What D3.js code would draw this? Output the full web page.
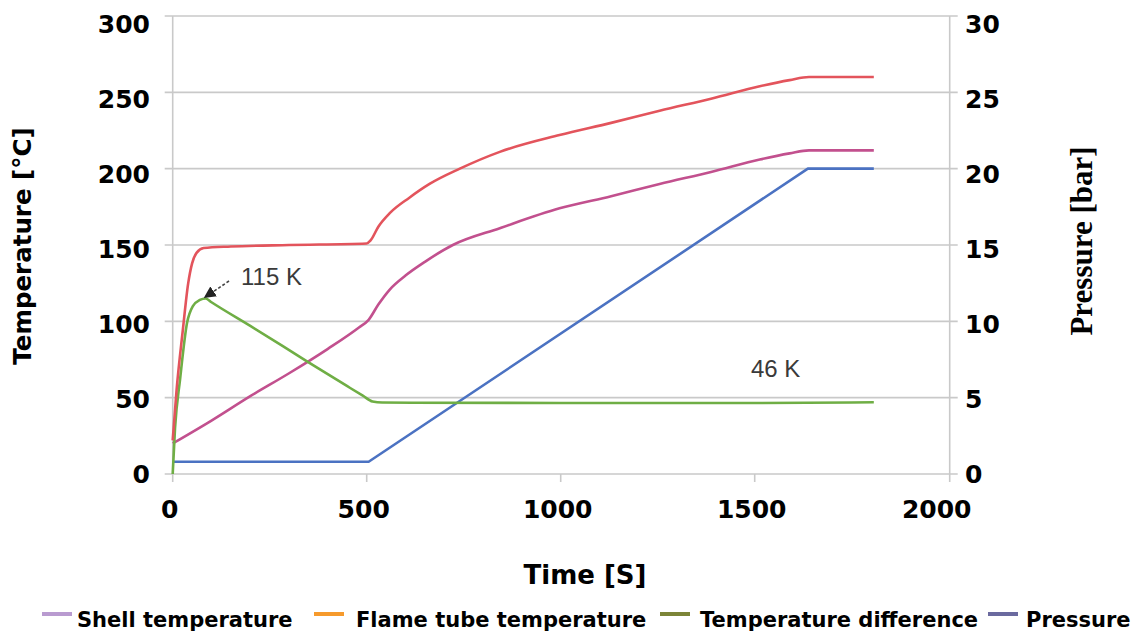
<!DOCTYPE html>
<html>
<head>
<meta charset="utf-8">
<script src="https://cdn.jsdelivr.net/npm/d3@7"></script>
<style>
  html, body { margin: 0; padding: 0; background: #fff; }
  svg { display: block; }
</style>
</head>
<body>
<svg id="chart" width="1139" height="632"></svg>
<script>
// --- data (time in s, temperature in °C, pressure in bar)
const flameTime = [0, 10, 26, 40, 50, 62, 80, 150, 300, 500, 510, 530, 560, 610, 662, 740, 843, 997, 1130, 1255, 1390, 1513, 1590, 1640, 1807]
const flameTemp = [22, 55, 94, 125, 138, 145, 148, 149, 150, 151, 153, 162, 171, 181, 190, 200, 211, 222, 230, 238, 246, 254, 258, 260, 260]

const shellTime = [0, 100, 200, 300, 400, 480, 505, 530, 560, 600, 650, 722, 843, 997, 1130, 1255, 1390, 1513, 1590, 1640, 1807]
const shellTemp = [20, 35, 51, 66, 82, 96, 101, 111, 121, 130, 139, 150, 161, 174, 182, 190, 198, 206, 210, 212, 212]

const diffTime = [0, 6, 19, 37, 52, 70, 85, 100, 200, 345, 450, 490, 515, 540, 1000, 1500, 1807]
const diffTemp = [0, 30, 62, 99, 110, 114, 115, 112.5, 97, 74, 57.5, 51.3, 47.5, 46.8, 46.5, 46.5, 47]

const pressTime = [0, 505, 1637, 1807]
const pressBar = [0.8, 0.8, 20, 20]

const timeTicks = [0, 500, 1000, 1500, 2000]
const tempTicks = [0, 50, 100, 150, 200, 250, 300]
const pressTicks = [0, 5, 10, 15, 20, 25, 30]

const legendNames = ["Shell temperature", "Flame tube temperature", "Temperature difference", "Pressure"]
const legendColors = ["#b99bd0", "#f69a2c", "#7c8538", "#6b6a9f"]

// --- layout
const svg = d3.select("#chart")
const plotLeft = 172.7, plotRight = 948.7, plotTop = 16, plotBottom = 474
const sans = "'DejaVu Sans', Verdana, sans-serif"

const x = d3.scaleLinear().domain([0, 2000]).range([plotLeft, plotRight])
const y = d3.scaleLinear().domain([0, 300]).range([plotBottom, plotTop])
const yP = d3.scaleLinear().domain([0, 30]).range([plotBottom, plotTop])
// labels in the original sit on a slightly tighter spacing than the grid
const yLab = d3.scaleLinear().domain([0, 300]).range([474, 24])
const yPLab = d3.scaleLinear().domain([0, 30]).range([474, 24])

const gridColor = "#c9c9c9"

// horizontal grid lines
svg.append("g")
  .selectAll("line")
  .data(tempTicks)
  .join("line")
  .attr("x1", plotLeft - 8)
  .attr("x2", plotRight + 9)
  .attr("y1", d => y(d))
  .attr("y2", d => y(d))
  .attr("stroke", gridColor)
  .attr("stroke-width", 1.6)

// left and right axis lines
svg.append("line")
  .attr("x1", plotLeft).attr("x2", plotLeft)
  .attr("y1", plotTop).attr("y2", plotBottom + 8)
  .attr("stroke", gridColor).attr("stroke-width", 1.6)
svg.append("line")
  .attr("x1", plotRight + 1).attr("x2", plotRight + 1)
  .attr("y1", plotTop).attr("y2", plotBottom + 8)
  .attr("stroke", gridColor).attr("stroke-width", 1.6)

// bottom tick marks
svg.append("g")
  .selectAll("line")
  .data(timeTicks.slice(1, -1))
  .join("line")
  .attr("x1", d => x(d)).attr("x2", d => x(d))
  .attr("y1", plotBottom).attr("y2", plotBottom + 8)
  .attr("stroke", gridColor).attr("stroke-width", 1.6)

// tick labels
svg.append("g")
  .selectAll("text")
  .data(tempTicks)
  .join("text")
  .attr("x", 150)
  .attr("y", d => yLab(d))
  .attr("dy", "0.36em")
  .attr("text-anchor", "end")
  .attr("font-family", sans)
  .attr("font-weight", "bold")
  .attr("font-size", 25)
  .text(d => d)

svg.append("g")
  .selectAll("text")
  .data(pressTicks)
  .join("text")
  .attr("x", 965)
  .attr("y", d => yPLab(d))
  .attr("dy", "0.36em")
  .attr("text-anchor", "start")
  .attr("font-family", sans)
  .attr("font-weight", "bold")
  .attr("font-size", 25)
  .text(d => d)

svg.append("g")
  .selectAll("text")
  .data(timeTicks)
  .join("text")
  .attr("x", d => x(d) - (d === 2000 ? 12 : 3))
  .attr("y", 518)
  .attr("text-anchor", "middle")
  .attr("font-family", sans)
  .attr("font-weight", "bold")
  .attr("font-size", 25)
  .text(d => d)

// axis titles
svg.append("text")
  .attr("transform", "translate(31,246) rotate(-90)")
  .attr("text-anchor", "middle")
  .attr("font-family", sans)
  .attr("font-weight", "bold")
  .attr("font-size", 24.5)
  .text("Temperature [°C]")

svg.append("text")
  .attr("transform", "translate(1092,241) rotate(-90)")
  .attr("text-anchor", "middle")
  .attr("font-family", "'Liberation Serif', 'Times New Roman', serif")
  .attr("font-weight", "bold")
  .attr("font-size", 31)
  .text("Pressure [bar]")

svg.append("text")
  .attr("x", 585)
  .attr("y", 584)
  .attr("text-anchor", "middle")
  .attr("font-family", sans)
  .attr("font-weight", "bold")
  .attr("font-size", 26)
  .text("Time [S]")

// series lines
const tempLine = d3.line().x(d => x(d[0])).y(d => y(d[1])).curve(d3.curveMonotoneX)
const pressLine = d3.line().x(d => x(d[0])).y(d => yP(d[1]))

const series = [
  { t: pressTime, v: pressBar, color: "#4b72c2", gen: pressLine },
  { t: shellTime, v: shellTemp, color: "#c2508e", gen: tempLine },
  { t: diffTime, v: diffTemp, color: "#6fae45", gen: tempLine },
  { t: flameTime, v: flameTemp, color: "#e3545c", gen: tempLine },
]

svg.append("g")
  .selectAll("path")
  .data(series)
  .join("path")
  .attr("d", s => s.gen(d3.zip(s.t, s.v)))
  .attr("fill", "none")
  .attr("stroke", s => s.color)
  .attr("stroke-width", 2.6)
  .attr("stroke-linejoin", "round")

// annotations
const defs = svg.append("defs")
defs.append("marker")
  .attr("id", "arrowHead")
  .attr("viewBox", "0 0 10 10")
  .attr("refX", 9).attr("refY", 5)
  .attr("markerWidth", 12).attr("markerHeight", 12)
  .attr("markerUnits", "userSpaceOnUse")
  .attr("orient", "auto")
  .append("path")
  .attr("d", "M0,0 L10,5 L0,10 Z")
  .attr("fill", "#222")

svg.append("line")
  .attr("x1", 229).attr("y1", 281)
  .attr("x2", x(80) + 1).attr("y2", y(115) - 1)
  .attr("stroke", "#444")
  .attr("stroke-width", 1.6)
  .attr("stroke-dasharray", "3,2")
  .attr("marker-end", "url(#arrowHead)")

svg.append("text")
  .attr("x", 241).attr("y", 285)
  .attr("font-family", "'Liberation Sans', Arial, sans-serif")
  .attr("font-size", 24)
  .attr("fill", "#3a3a3a")
  .text("115 K")

svg.append("text")
  .attr("x", 751).attr("y", 377)
  .attr("font-family", "'Liberation Sans', Arial, sans-serif")
  .attr("font-size", 24)
  .attr("fill", "#3a3a3a")
  .text("46 K")

// legend
const legendX = [42, 314, 660, 988]
const legendTextX = [35, 42, 40, 38]
const legend = svg.append("g")
  .selectAll("g")
  .data(legendNames)
  .join("g")
  .attr("transform", (d, i) => `translate(${legendX[i]},614)`)

legend.append("line")
  .attr("x1", 0).attr("x2", 30)
  .attr("stroke", (d, i) => legendColors[i])
  .attr("stroke-width", 4)

legend.append("text")
  .attr("x", (d, i) => legendTextX[i])
  .attr("y", 13)
  .attr("font-family", sans)
  .attr("font-weight", "bold")
  .attr("font-size", 21)
  .text(d => d)
</script>
</body>
</html>
